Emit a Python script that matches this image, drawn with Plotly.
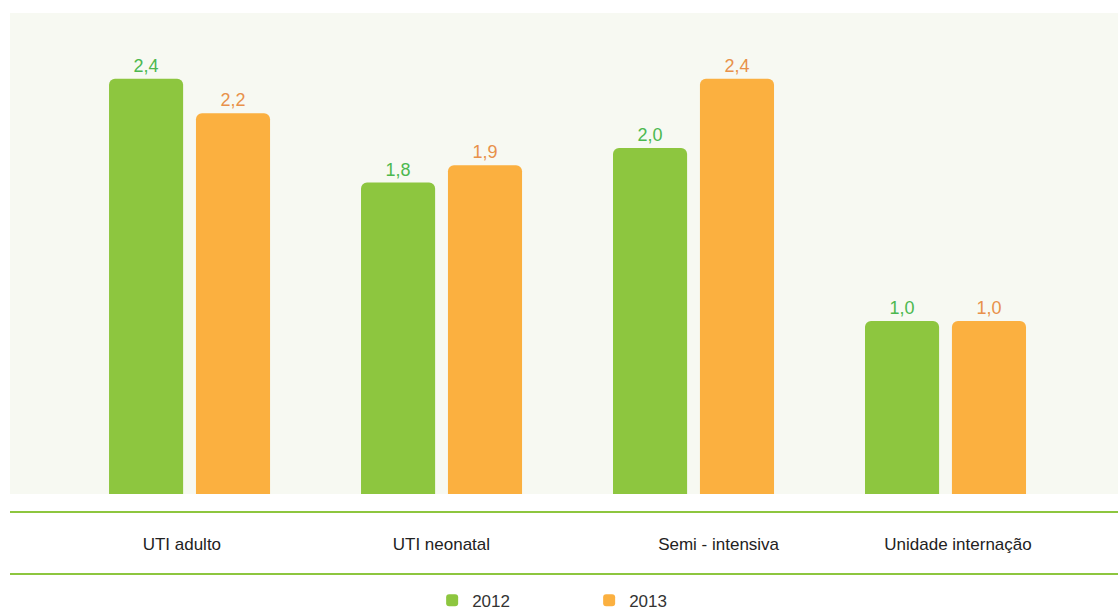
import plotly.graph_objects as go

# Categories and series values
categories = ["UTI adulto", "UTI neonatal", "Semi - intensiva", "Unidade internação"]
years = ["2012", "2013"]
values_2012 = [2.4, 1.8, 2.0, 1.0]
values_2013 = [2.2, 1.9, 2.4, 1.0]

# Styling
bar_colors = ["#8dc63f", "#fbb040"]
label_colors = ["#4cb84f", "#e8914a"]
label_nudge = [-0.03, 0.0, 0.1, 0.05]   # small horizontal nudge of category labels
bar_width = 0.294
bar_offsets = [-0.319, 0.026]
FONT = "Liberation Sans, Arial, sans-serif"


def fmt(v):
    return f"{v:.1f}".replace(".", ",")


x_pos = list(range(len(categories)))

fig = go.Figure()
for name, vals, col, lcol, off in zip(years, [values_2012, values_2013],
                                      bar_colors, label_colors, bar_offsets):
    fig.add_trace(go.Bar(
        x=x_pos, y=vals, name=name,
        width=bar_width, offset=off,
        marker=dict(color=col, cornerradius=6, line=dict(width=0)),
        text=[fmt(v) for v in vals], textposition="outside",
        textfont=dict(color=lcol, size=18, family=FONT),
        cliponaxis=False, hoverinfo="skip",
    ))

line_green = "#8dc63f"
fig.update_layout(
    width=1118, height=612,
    margin=dict(l=10, r=0, t=13, b=118, autoexpand=False),
    paper_bgcolor="white", plot_bgcolor="#f7f9f2",
    barmode="overlay",
    showlegend=True,
    legend=dict(orientation="h", x=0.381, xanchor="left", y=-0.222, yanchor="middle",
                font=dict(size=17, family=FONT, color="#333333"),
                entrywidth=112, entrywidthmode="pixels",
                tracegroupgap=0, bgcolor="rgba(0,0,0,0)"),
    xaxis=dict(range=[-0.712, 3.685], showgrid=False, zeroline=False, showline=False,
               tickvals=[p + n for p, n in zip(x_pos, label_nudge)], ticktext=categories,
               ticks="outside", ticklen=35, tickcolor="rgba(0,0,0,0)",
               tickfont=dict(size=17, family=FONT, color="#222222")),
    yaxis=dict(range=[0, 2.78], showgrid=False, zeroline=False, showline=False,
               showticklabels=False),
    shapes=[
        dict(type="line", xref="paper", yref="paper", x0=0, x1=1, y0=-0.0374, y1=-0.0374,
             line=dict(color=line_green, width=2)),
        dict(type="line", xref="paper", yref="paper", x0=0, x1=1, y0=-0.1663, y1=-0.1663,
             line=dict(color=line_green, width=2)),
    ],
)

fig.write_html("out.html")
